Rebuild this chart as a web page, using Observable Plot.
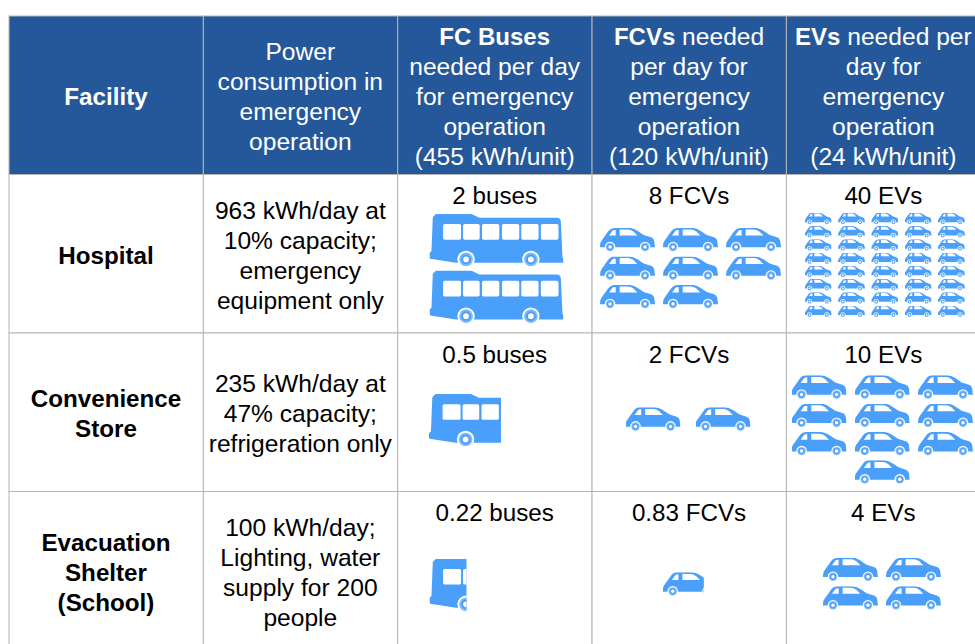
<!DOCTYPE html>
<html>
<head>
<meta charset="utf-8">
<style>html,body{margin:0;padding:0;background:#fff;overflow:hidden}svg{display:block}</style>
<script src="https://cdn.jsdelivr.net/npm/d3@7"></script>
<script src="https://cdn.jsdelivr.net/npm/@observablehq/plot@0.6"></script>
</head>
<body>
<script>
// ---- Table content ----
const headers = [
  "Facility",
  "Power\nconsumption in\nemergency\noperation",
  "FC Buses\nneeded per day\nfor emergency\noperation\n(455 kWh/unit)",
  "FCVs needed\nper day for\nemergency\noperation\n(120 kWh/unit)",
  "EVs needed per\nday for\nemergency\noperation\n(24 kWh/unit)"
];
const boldPrefixes = ["FC Buses", "FCVs", "EVs"];
const facilities = ["Hospital", "Convenience\nStore", "Evacuation\nShelter\n(School)"];
const consumption = [
  "963 kWh/day at\n10% capacity;\nemergency\nequipment only",
  "235 kWh/day at\n47% capacity;\nrefrigeration only",
  "100 kWh/day;\nLighting, water\nsupply for 200\npeople"
];
const busLabels = ["2 buses", "0.5 buses", "0.22 buses"];
const fcvLabels = ["8 FCVs", "2 FCVs", "0.83 FCVs"];
const evLabels  = ["40 EVs", "10 EVs", "4 EVs"];
const busCounts = [2, 0.5, 0.22];
const fcvCounts = [8, 2, 0.83];
const evCounts  = [40, 10, 4];

// ---- Layout ----
const colW = 194.35, rowH = 158.5, tableLeft = 9, tableTop = 16;
const blue = "#4a9ffb", navy = "#25589a", rule = "#b5b5b5";

// ---- Icons (SVG drawn in their own local box) ----
const wheel = (cx, cy, r) => `<circle cx="${cx}" cy="${cy}" r="${r * 1.27}" fill="#fff"/><circle cx="${cx}" cy="${cy}" r="${r}" fill="#7fbbfc"/><circle cx="${cx}" cy="${cy}" r="${r * .72}" fill="${blue}"/><circle cx="${cx}" cy="${cy}" r="${r * .42}" fill="#fff"/>`;
const busArt = `<path fill="${blue}" d="M10 10L20 0L125 0L150 12L383 12Q393 12 395 22L400 130L403 136L403 147L80 147L2 135Q0 133 0 128L0 118L6 112Z"/>` +
  [[41,54],[101,50],[158,52],[218,52],[276,52],[335,53]].map(([x,w]) => `<rect x="${x}" y="31" width="${w}" height="47" rx="5" fill="#fff"/>`).join("") +
  wheel(110, 137, 20.5) + wheel(305, 137, 20.5);
const carArt = `<path fill="${blue}" d="M0 55Q0 42 6 36L24 11Q30 1 44 0L86 0Q100 0 113 9L131 21L153 28Q162 31 163 42L165 58L0 58Z"/>` +
  `<path fill="#fff" d="M27 23L38 8Q40 6 47 6L47 23Z"/><path fill="#fff" d="M59 5L84 5Q92 5 100 11L112 23L59 23Z"/>` +
  wheel(30, 57, 12.5) + wheel(135, 57, 12.5);
const icon = (art, w, h, crop) => "data:image/svg+xml," + encodeURIComponent(
  `<svg xmlns="http://www.w3.org/2000/svg" viewBox="0 0 ${w * crop} ${h}" preserveAspectRatio="none">${art}</svg>`);
const busBox = {art: busArt, w: 403, h: 158};
const carBox = {art: carArt, w: 165, h: 73};

// Icon grids: each cell repeats its icon count times around an offset from the cell centre
const grids = [
  {col: 2, row: 1, box: busBox, n: busCounts[0], perRow: 1, ox: 1.1, oy: 14.2, sx: 0, sy: 56.7, w: 134, h: 52.7},
  {col: 2, row: 2, box: busBox, n: busCounts[1], perRow: 1, ox: -30.4, oy: 7.4, sx: 0, sy: 0, w: 72, h: 52.7, crop: 0.537},
  {col: 2, row: 3, box: busBox, n: busCounts[2], perRow: 1, ox: -47.4, oy: 13.7, sx: 0, sy: 0, w: 37, h: 52.7, crop: 0.276},
  {col: 3, row: 1, box: carBox, n: fcvCounts[0], perRow: 3, ox: 0.8, oy: 14.4, sx: 63, sy: 28.5, w: 55, h: 24.5},
  {col: 3, row: 2, box: carBox, n: fcvCounts[1], perRow: 2, ox: -1.7, oy: 6.8, sx: 70, sy: 0, w: 55, h: 24.5},
  {col: 3, row: 3, box: carBox, n: fcvCounts[2], perRow: 1, ox: -6.4, oy: 13.2, sx: 0, sy: 0, w: 41, h: 24.5, crop: 0.75},
  {col: 4, row: 1, box: carBox, n: evCounts[0], perRow: 5, ox: 0.7, oy: 10.9, sx: 33.3, sy: 13.25, w: 27, h: 12},
  {col: 4, row: 2, box: carBox, n: evCounts[1], perRow: 3, ox: -1.8, oy: 17.3, sx: 63.2, sy: 28.3, w: 55, h: 24.5, centerLast: true},
  {col: 4, row: 3, box: carBox, n: evCounts[2], perRow: 2, ox: -2.1, oy: 12.9, sx: 63, sy: 28.5, w: 55, h: 24.5}
];
const iconItems = grids.flatMap(g => {
  const n = Math.max(1, Math.ceil(g.n));
  const rows = Math.ceil(n / g.perRow);
  const src = icon(g.box.art, g.box.w, g.box.h, g.crop ?? 1);
  return d3.range(n).map(i => {
    const r = Math.floor(i / g.perRow), c = i % g.perRow;
    const inRow = g.centerLast && r === rows - 1 ? n - r * g.perRow : g.perRow;
    return {
      x: (g.col + .5) * colW + g.ox + (c - (inRow - 1) / 2) * g.sx,
      y: (g.row + .5) * rowH + g.oy + (r - (rows - 1) / 2) * g.sy,
      w: g.w, h: g.h, src
    };
  });
});

// ---- Table cells ----
const headerCells = headers.map((t, i) => ({col: i, row: 0, t}));
const bodyCells = d3.range(5).flatMap(col => d3.range(1, 4).map(row => ({col, row})));
const allCells = [...headerCells, ...bodyCells];
const nameCells = facilities.map((t, i) => ({col: 0, row: i + 1, t}));
const powerCells = consumption.map((t, i) => ({col: 1, row: i + 1, t}));
const countCells = [busLabels, fcvLabels, evLabels].flatMap((labels, c) => labels.map((t, i) => ({col: c + 2, row: i + 1, t})));

const cx = d => (d.col + .5) * colW;
const cy = d => (d.row + .5) * rowH;
const textStyle = {x: cx, y: cy, text: "t", lineAnchor: "middle", lineHeight: 1.22, fontSize: 24.6, dx: -0.7, dy: 0, textAnchor: "middle"};

const plot = Plot.plot({
  width: 975, height: 644,
  marginTop: 0, marginRight: 0, marginBottom: 0, marginLeft: 0,
  style: {fontFamily: "'Liberation Sans', Arial, sans-serif", background: "#fff"},
  x: {axis: null, domain: [0, 5 * colW], range: [tableLeft, tableLeft + 5 * colW]},
  y: {axis: null, domain: [0, 4 * rowH], range: [tableTop, tableTop + 4 * rowH]},
  marks: [
    Plot.rect(allCells, {
      x1: d => d.col * colW, x2: d => (d.col + 1) * colW,
      y1: d => d.row * rowH, y2: d => (d.row + 1) * rowH,
      fill: d => d.row === 0 ? navy : "#fff", stroke: rule, strokeWidth: 1
    }),
    Plot.text(headerCells.filter(d => d.col === 0), {...textStyle, fill: "#fff", fontWeight: "bold", fontSize: 24.2}),
    Plot.text(headerCells.filter(d => d.col > 0), {...textStyle, fill: "#fff"}),
    Plot.text(nameCells, {...textStyle, fill: "#000", fontWeight: "bold", fontSize: 24.2, lineHeight: 1.24}),
    Plot.text(powerCells, {...textStyle, fill: "#000"}),
    Plot.text(countCells, {...textStyle, fill: "#000", fontSize: 24.2, y: d => d.row * rowH + 20}),
    Plot.image(iconItems, {x: "x", y: "y", width: "w", height: "h", src: "src", preserveAspectRatio: "none"})
  ]
});

// Bold lead words inside the mixed-weight header lines
plot.querySelectorAll("tspan").forEach(ts => {
  const s = ts.textContent;
  const p = boldPrefixes.find(b => s.startsWith(b));
  if (!p) return;
  ts.textContent = "";
  const b = document.createElementNS("http://www.w3.org/2000/svg", "tspan");
  b.setAttribute("font-weight", "bold");
  b.setAttribute("font-size", "24");
  b.textContent = p;
  ts.appendChild(b);
  if (s.length > p.length) ts.appendChild(document.createTextNode(s.slice(p.length)));
});

document.body.appendChild(plot);
</script>
</body>
</html>
